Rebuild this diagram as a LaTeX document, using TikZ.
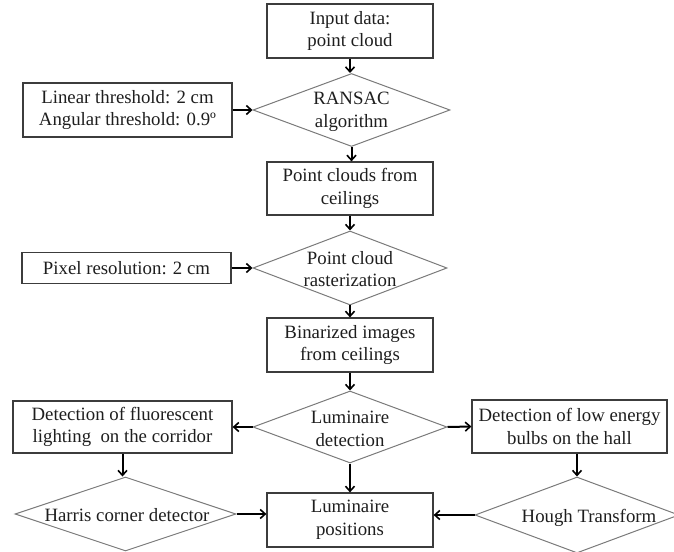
\documentclass[tikz,border=0pt]{standalone}
\usepackage{fontspec}
\setmainfont{Liberation Serif}
\usetikzlibrary{shapes.geometric,arrows.meta}

\definecolor{boxline}{HTML}{3C3C3C}
\definecolor{diamline}{HTML}{7A7A7A}
\definecolor{ink}{HTML}{1E1E1E}

\tikzset{
  txt/.style={font=\fontsize{18.8bp}{22.5bp}\selectfont, text=ink, align=center, inner sep=0pt},
  procbox/.style={draw=boxline, line width=1.2bp, rectangle, inner sep=0pt,
                  minimum width=#1},
  decision/.style={draw=diamline, line width=1bp, diamond, inner sep=0pt, aspect=2.6},
  flow/.style={draw=black, line width=2bp,
               -{Straight Barb[length=5bp,width=9bp,line width=1.6bp]}},
}

\begin{document}
\begin{tikzpicture}[x=1bp, y=-1bp]
  \useasboundingbox (0,0) rectangle (674,552);

  % main column
  \node[procbox=166bp, minimum height=54bp] (input) at (350,31) {};
  \node[txt] (input-t) at (input) {Input data:\\point cloud};

  \node[decision, minimum width=197bp, minimum height=73bp] (ransac) at (351.5,110) {};
  \node[txt] (ransac-t) at (351.5,112) {RANSAC\\algorithm};

  \node[procbox=166bp, minimum height=53bp] (pcc) at (350,188.5) {};
  \node[txt] (pcc-t) at (pcc) {Point clouds from\\ceilings};

  \node[decision, minimum width=194bp, minimum height=74bp] (raster) at (350,268) {};
  \node[txt] (raster-t) at (350,269) {Point cloud\\rasterization};

  \node[procbox=166bp, minimum height=54bp] (bin) at (350,345) {};
  \node[txt] (bin-t) at (bin) {Binarized images\\from ceilings};

  \node[decision, minimum width=194bp, minimum height=72bp] (lumdet) at (350,427) {};
  \node[txt] (lumdet-t) at (350,429) {Luminaire\\detection};

  \node[procbox=166bp, minimum height=54bp] (pos) at (350,520) {};
  \node[txt] (pos-t) at (pos) {Luminaire\\positions};

  % parameter boxes
  \node[procbox=209bp, minimum height=54bp] (linth) at (127.5,110) {};
  \node[txt] (linth-t) at (linth) {Linear threshold: 2 cm\\Angular threshold: 0.9º};

  \node[procbox=209bp, minimum height=31bp] (pixel) at (126.5,268) {};
  \node[txt] (pixel-t) at (pixel) {Pixel resolution: 2 cm};

  % side branches
  \node[procbox=219bp, minimum height=52bp] (fluo) at (122.5,427) {};
  \node[txt] (fluo-t) at (fluo) {Detection of fluorescent\\lighting~ on the corridor};

  \node[procbox=195bp, minimum height=53bp] (low) at (569.5,426.5) {};
  \node[txt] (low-t) at (low) {Detection of low energy\\bulbs on the hall};

  \node[decision, minimum width=221bp, minimum height=74bp] (harris) at (125.5,514) {};
  \node[txt] (harris-t) at (127,515) {Harris corner detector};

  \node[decision, minimum width=204bp, minimum height=76bp] (hough) at (577,515) {};
  \node[txt] (hough-t) at (589,518) {Hough Transform};

  % connectors
  \draw[flow] (input) -- (ransac.north -| input);
  \draw[flow] (ransac) -- (pcc.north -| ransac);
  \draw[flow] (pcc) -- (raster.north -| pcc);
  \draw[flow] (raster) -- (bin.north);
  \draw[flow] (bin) -- (lumdet.north);
  \draw[flow] (lumdet.south) -- (pos.north);

  \draw[flow] (linth.east) -- (ransac.west);
  \draw[flow] (pixel.east) -- (raster.west);

  \draw[flow] (lumdet.west) -- (fluo.east);
  \draw[flow] (lumdet.east) -- (low.west);

  \draw[flow] (fluo.south) -- (harris.north -| fluo.south);
  \draw[flow] (low.south -| hough.north) -- (hough.north);

  \draw[flow] (harris.east) -- (harris.east -| pos.west);
  \draw[flow] (hough.west) -- (hough.west -| pos.east);
\end{tikzpicture}
\end{document}
